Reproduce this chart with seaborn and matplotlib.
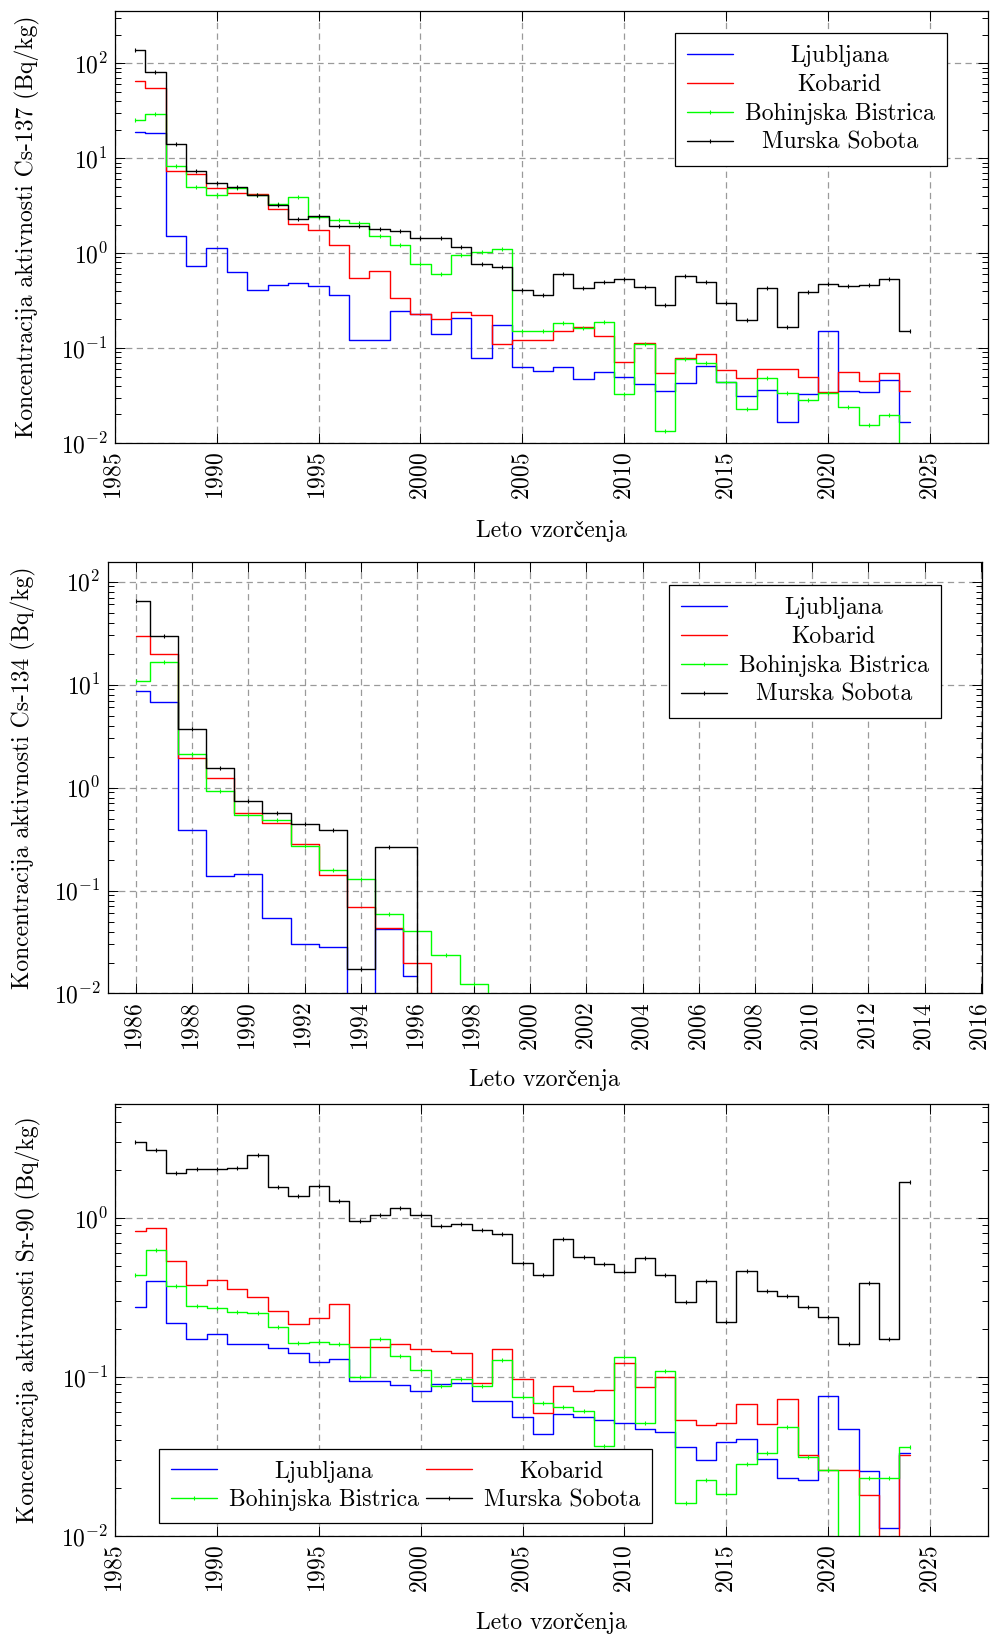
import numpy as np
import pandas as pd
import matplotlib
matplotlib.use("Agg")
import matplotlib.pyplot as plt
import seaborn as sns
from matplotlib.ticker import LogLocator, NullFormatter, FixedLocator

# ---------------------------------------------------------------- data
stations = ["Ljubljana", "Kobarid", "Bohinjska Bistrica", "Murska Sobota"]
station_colors = ["#0000ff", "#ff0000", "#00ff00", "#000000"]
station_marked = [False, False, True, True]

years = list(range(1986, 2025))

# Cs-137 (Bq/kg), 1986-2024
cs137_ljubljana = [18.8, 18.3, 1.50, 0.73, 1.13, 0.625, 0.404, 0.464, 0.48, 0.446,
                   0.358, 0.122, 0.122, 0.247, 0.230, 0.139, 0.209, 0.078, 0.175, 0.0626,
                   0.0573, 0.0637, 0.0472, 0.0559, 0.0495, 0.0421, 0.0353, 0.0428, 0.0652, 0.0435,
                   0.031, 0.0361, 0.0165, 0.0325, 0.151, 0.0356, 0.0344, 0.0464, 0.0166]
cs137_kobarid = [65.2, 54.6, 7.36, 6.85, 4.83, 4.28, 4.18, 2.90, 2.04, 1.75,
                 1.22, 0.55, 0.652, 0.333, 0.230, 0.202, 0.237, 0.222, 0.110, 0.121,
                 0.121, 0.152, 0.166, 0.135, 0.0713, 0.113, 0.0546, 0.0785, 0.0865, 0.0592,
                 0.0483, 0.0601, 0.0601, 0.0491, 0.0344, 0.0555, 0.0446, 0.054, 0.035]
cs137_bohinj = [25.1, 29.5, 8.3, 5.03, 4.08, 4.83, 4.1, 3.30, 3.88, 2.43,
                2.26, 2.10, 1.50, 1.21, 0.77, 0.596, 0.96, 1.02, 1.11, 0.150,
                0.152, 0.182, 0.163, 0.189, 0.0328, 0.111, 0.0135, 0.0766, 0.070, 0.0435,
                0.023, 0.0487, 0.0333, 0.0281, 0.0336, 0.0239, 0.0155, 0.0195, 0.0]
cs137_murska = [138.0, 80.0, 14.2, 7.4, 5.5, 4.95, 4.08, 3.25, 2.30, 2.49,
                1.95, 1.95, 1.80, 1.72, 1.46, 1.46, 1.17, 0.77, 0.72, 0.41,
                0.364, 0.596, 0.425, 0.50, 0.53, 0.435, 0.281, 0.568, 0.50, 0.295,
                0.197, 0.425, 0.168, 0.392, 0.475, 0.453, 0.464, 0.53, 0.150]

# Cs-134 (Bq/kg), sampled years differ per station
cs134_years_ljubljana = list(range(1986, 1997))
cs134_ljubljana = [8.75, 6.84, 0.385, 0.139, 0.144, 0.0538, 0.0303, 0.0286, 0.0, 0.0422, 0.0149]
cs134_years_kobarid = list(range(1986, 1998))
cs134_kobarid = [29.9, 19.7, 1.93, 1.25, 0.572, 0.454, 0.280, 0.141, 0.069, 0.0432, 0.0199, 0.0]
cs134_years_bohinj = list(range(1986, 2000))
cs134_bohinj = [10.9, 16.7, 2.14, 0.92, 0.543, 0.479, 0.272, 0.157, 0.129, 0.0598,
                0.0406, 0.0236, 0.0125, 0.0]
cs134_years_murska = [1986, 1987, 1988, 1989, 1990, 1991, 1992, 1993, 1994, 1995, 1997]
cs134_murska = [65.4, 29.3, 3.74, 1.54, 0.737, 0.56, 0.447, 0.388, 0.0174, 0.267, 0.0]

# Sr-90 (Bq/kg), 1986-2024
sr90_ljubljana = [0.277, 0.402, 0.219, 0.173, 0.187, 0.160, 0.160, 0.151, 0.141, 0.124,
                  0.130, 0.094, 0.094, 0.089, 0.082, 0.090, 0.0917, 0.071, 0.071, 0.056,
                  0.044, 0.0587, 0.056, 0.0534, 0.0511, 0.0471, 0.0453, 0.0363, 0.030, 0.0388,
                  0.0407, 0.0304, 0.0233, 0.0224, 0.0756, 0.0469, 0.0255, 0.0112, 0.0333]
sr90_kobarid = [0.824, 0.869, 0.534, 0.381, 0.406, 0.357, 0.319, 0.258, 0.216, 0.235,
                0.288, 0.154, 0.154, 0.160, 0.150, 0.145, 0.141, 0.0917, 0.149, 0.097,
                0.0597, 0.0873, 0.0813, 0.0824, 0.122, 0.086, 0.0995, 0.0537, 0.0501, 0.051,
                0.0676, 0.0505, 0.0724, 0.0322, 0.0259, 0.0261, 0.0182, 0.0, 0.0325]
sr90_bohinj = [0.436, 0.629, 0.375, 0.278, 0.273, 0.256, 0.253, 0.206, 0.164, 0.166,
               0.160, 0.100, 0.174, 0.135, 0.110, 0.0873, 0.097, 0.0873, 0.127, 0.075,
               0.0683, 0.065, 0.0608, 0.0368, 0.133, 0.051, 0.109, 0.0161, 0.0224, 0.0184,
               0.0282, 0.0333, 0.0482, 0.0314, 0.0261, 0.0, 0.0233, 0.0233, 0.0361]
sr90_murska = [2.98, 2.66, 1.91, 2.03, 2.04, 2.07, 2.49, 1.56, 1.37, 1.59,
               1.27, 0.953, 1.04, 1.15, 1.04, 0.895, 0.921, 0.84, 0.79, 0.519,
               0.436, 0.741, 0.571, 0.516, 0.460, 0.56, 0.438, 0.296, 0.40, 0.221,
               0.462, 0.346, 0.325, 0.274, 0.237, 0.160, 0.388, 0.172, 1.68]

xticks_long = [1985, 1990, 1995, 2000, 2005, 2010, 2015, 2020, 2025]
xticks_cs134 = list(range(1986, 2017, 2))

x_label = "Leto vzorčenja"
y_label_cs137 = "Koncentracija aktivnosti Cs-137 (Bq/kg)"
y_label_cs134 = "Koncentracija aktivnosti Cs-134 (Bq/kg)"
y_label_sr90 = "Koncentracija aktivnosti Sr-90 (Bq/kg)"

# ---------------------------------------------------------------- style
sns.set_theme(style="white")
FS = 17
plt.rcParams.update({
    "mathtext.fontset": "cm",
    "axes.formatter.use_mathtext": True,
    "axes.unicode_minus": False,
    "font.size": FS,
    "axes.edgecolor": "black",
    "axes.linewidth": 0.9,
    "text.color": "black",
    "axes.labelcolor": "black",
    "xtick.color": "black",
    "ytick.color": "black",
})
plt.rcParams["font.family"] = ["cmr10", "STIXGeneral"]

W, H = 990, 1637
fig = plt.figure(figsize=(W / 100, H / 100), dpi=100)


def add_axes(left, right, top, bottom):
    return fig.add_axes([left / W, 1 - bottom / H, (right - left) / W, (bottom - top) / H])


ax1 = add_axes(114.7, 988.5, 11, 443)
ax2 = add_axes(107.5, 981.7, 561.7, 993.5)
ax3 = add_axes(115.0, 988.5, 1104, 1536)


def draw_station(ax, x, y, idx):
    df = pd.DataFrame({"leto": x, "vrednost": y})
    kw = {}
    if station_marked[idx]:
        kw = dict(marker="|", markersize=3.5, markeredgewidth=0.8,
                  markeredgecolor=station_colors[idx])
    sns.lineplot(data=df, x="leto", y="vrednost", ax=ax, color=station_colors[idx],
                 linewidth=1.0, drawstyle="steps-mid", estimator=None, sort=True,
                 legend=False, label=stations[idx], **kw)


def style_axis(ax, xlim, ylim, xticks, ylabel, ylabel_x, xlabel_y):
    ax.set_yscale("log", nonpositive="clip")
    ax.set_xlim(*xlim)
    ax.set_ylim(*ylim)
    ax.xaxis.set_major_locator(FixedLocator(xticks))
    ax.yaxis.set_major_locator(LogLocator(base=10, numticks=20))
    ax.yaxis.set_minor_locator(LogLocator(base=10, subs=np.arange(2, 10), numticks=20))
    ax.yaxis.set_minor_formatter(NullFormatter())
    ax.grid(True, which="major", linestyle=(0, (5, 3.5)), color="#9a9a9a", linewidth=0.9)
    ax.tick_params(which="both", direction="in", top=True, right=True, bottom=True,
                   left=True, width=0.7, color="black")
    ax.tick_params(which="major", length=7)
    ax.tick_params(which="minor", length=4.5)
    ax.tick_params(axis="x", labelrotation=90, pad=6.5, labelsize=FS)
    ax.tick_params(axis="y", pad=5, labelsize=FS)
    ax.set_xlabel(x_label, fontsize=FS)
    ax.set_ylabel(ylabel, fontsize=FS)
    ax.yaxis.set_label_coords(ylabel_x, 0.5)
    ax.xaxis.set_label_coords(0.5, xlabel_y)
    for s in ax.spines.values():
        s.set_visible(True)
        s.set_color("black")
        s.set_linewidth(0.9)


# Cs-137
for i, vals in enumerate([cs137_ljubljana, cs137_kobarid, cs137_bohinj, cs137_murska]):
    draw_station(ax1, years, vals, i)
style_axis(ax1, (1985, 2027.87), (0.01, 355), xticks_long, y_label_cs137, -0.085, -0.177)

# Cs-134
cs134_sets = [(cs134_years_ljubljana, cs134_ljubljana), (cs134_years_kobarid, cs134_kobarid),
              (cs134_years_bohinj, cs134_bohinj), (cs134_years_murska, cs134_murska)]
for i, (xs, vals) in enumerate(cs134_sets):
    draw_station(ax2, xs, vals, i)
style_axis(ax2, (1985, 2016.03), (0.01, 156), xticks_cs134, y_label_cs134, -0.082, -0.175)

# Sr-90
for i, vals in enumerate([sr90_ljubljana, sr90_kobarid, sr90_bohinj, sr90_murska]):
    draw_station(ax3, years, vals, i)
style_axis(ax3, (1985, 2027.87), (0.01, 5.2), xticks_long, y_label_sr90, -0.085, -0.175)

legend_kw = dict(frameon=True, fancybox=False, framealpha=1, edgecolor="black",
                 fontsize=FS, handlelength=1.95, handletextpad=0.5, borderpad=0.5,
                 labelspacing=0.29, borderaxespad=0)

leg1 = ax1.legend(handles=ax1.get_lines()[:4], labels=stations, loc="upper right",
                  bbox_to_anchor=(0.952, 0.949), **legend_kw)
leg2 = ax2.legend(handles=ax2.get_lines()[:4], labels=stations, loc="upper right",
                  bbox_to_anchor=(0.953, 0.946), **legend_kw)
h3 = ax3.get_lines()[:4]
leg3 = ax3.legend(handles=[h3[0], h3[2], h3[1], h3[3]],
                  labels=[stations[0], stations[2], stations[1], stations[3]],
                  loc="lower left", bbox_to_anchor=(0.0507, 0.0294), ncol=2,
                  columnspacing=0.3, **legend_kw)
for leg in (leg1, leg2, leg3):
    leg.get_frame().set_linewidth(0.9)

# centre legend entries within their text column
fig.canvas.draw()
renderer = fig.canvas.get_renderer()


def centre_texts(texts):
    widths = [t.get_window_extent(renderer).width for t in texts]
    wmax = max(widths)
    for t, w in zip(texts, widths):
        t.set_x((wmax - w) / 2)


centre_texts(leg1.get_texts())
centre_texts(leg2.get_texts())
t3 = leg3.get_texts()
centre_texts([t3[0], t3[1]])
centre_texts([t3[2], t3[3]])

fig.savefig("out.png", dpi=100)
